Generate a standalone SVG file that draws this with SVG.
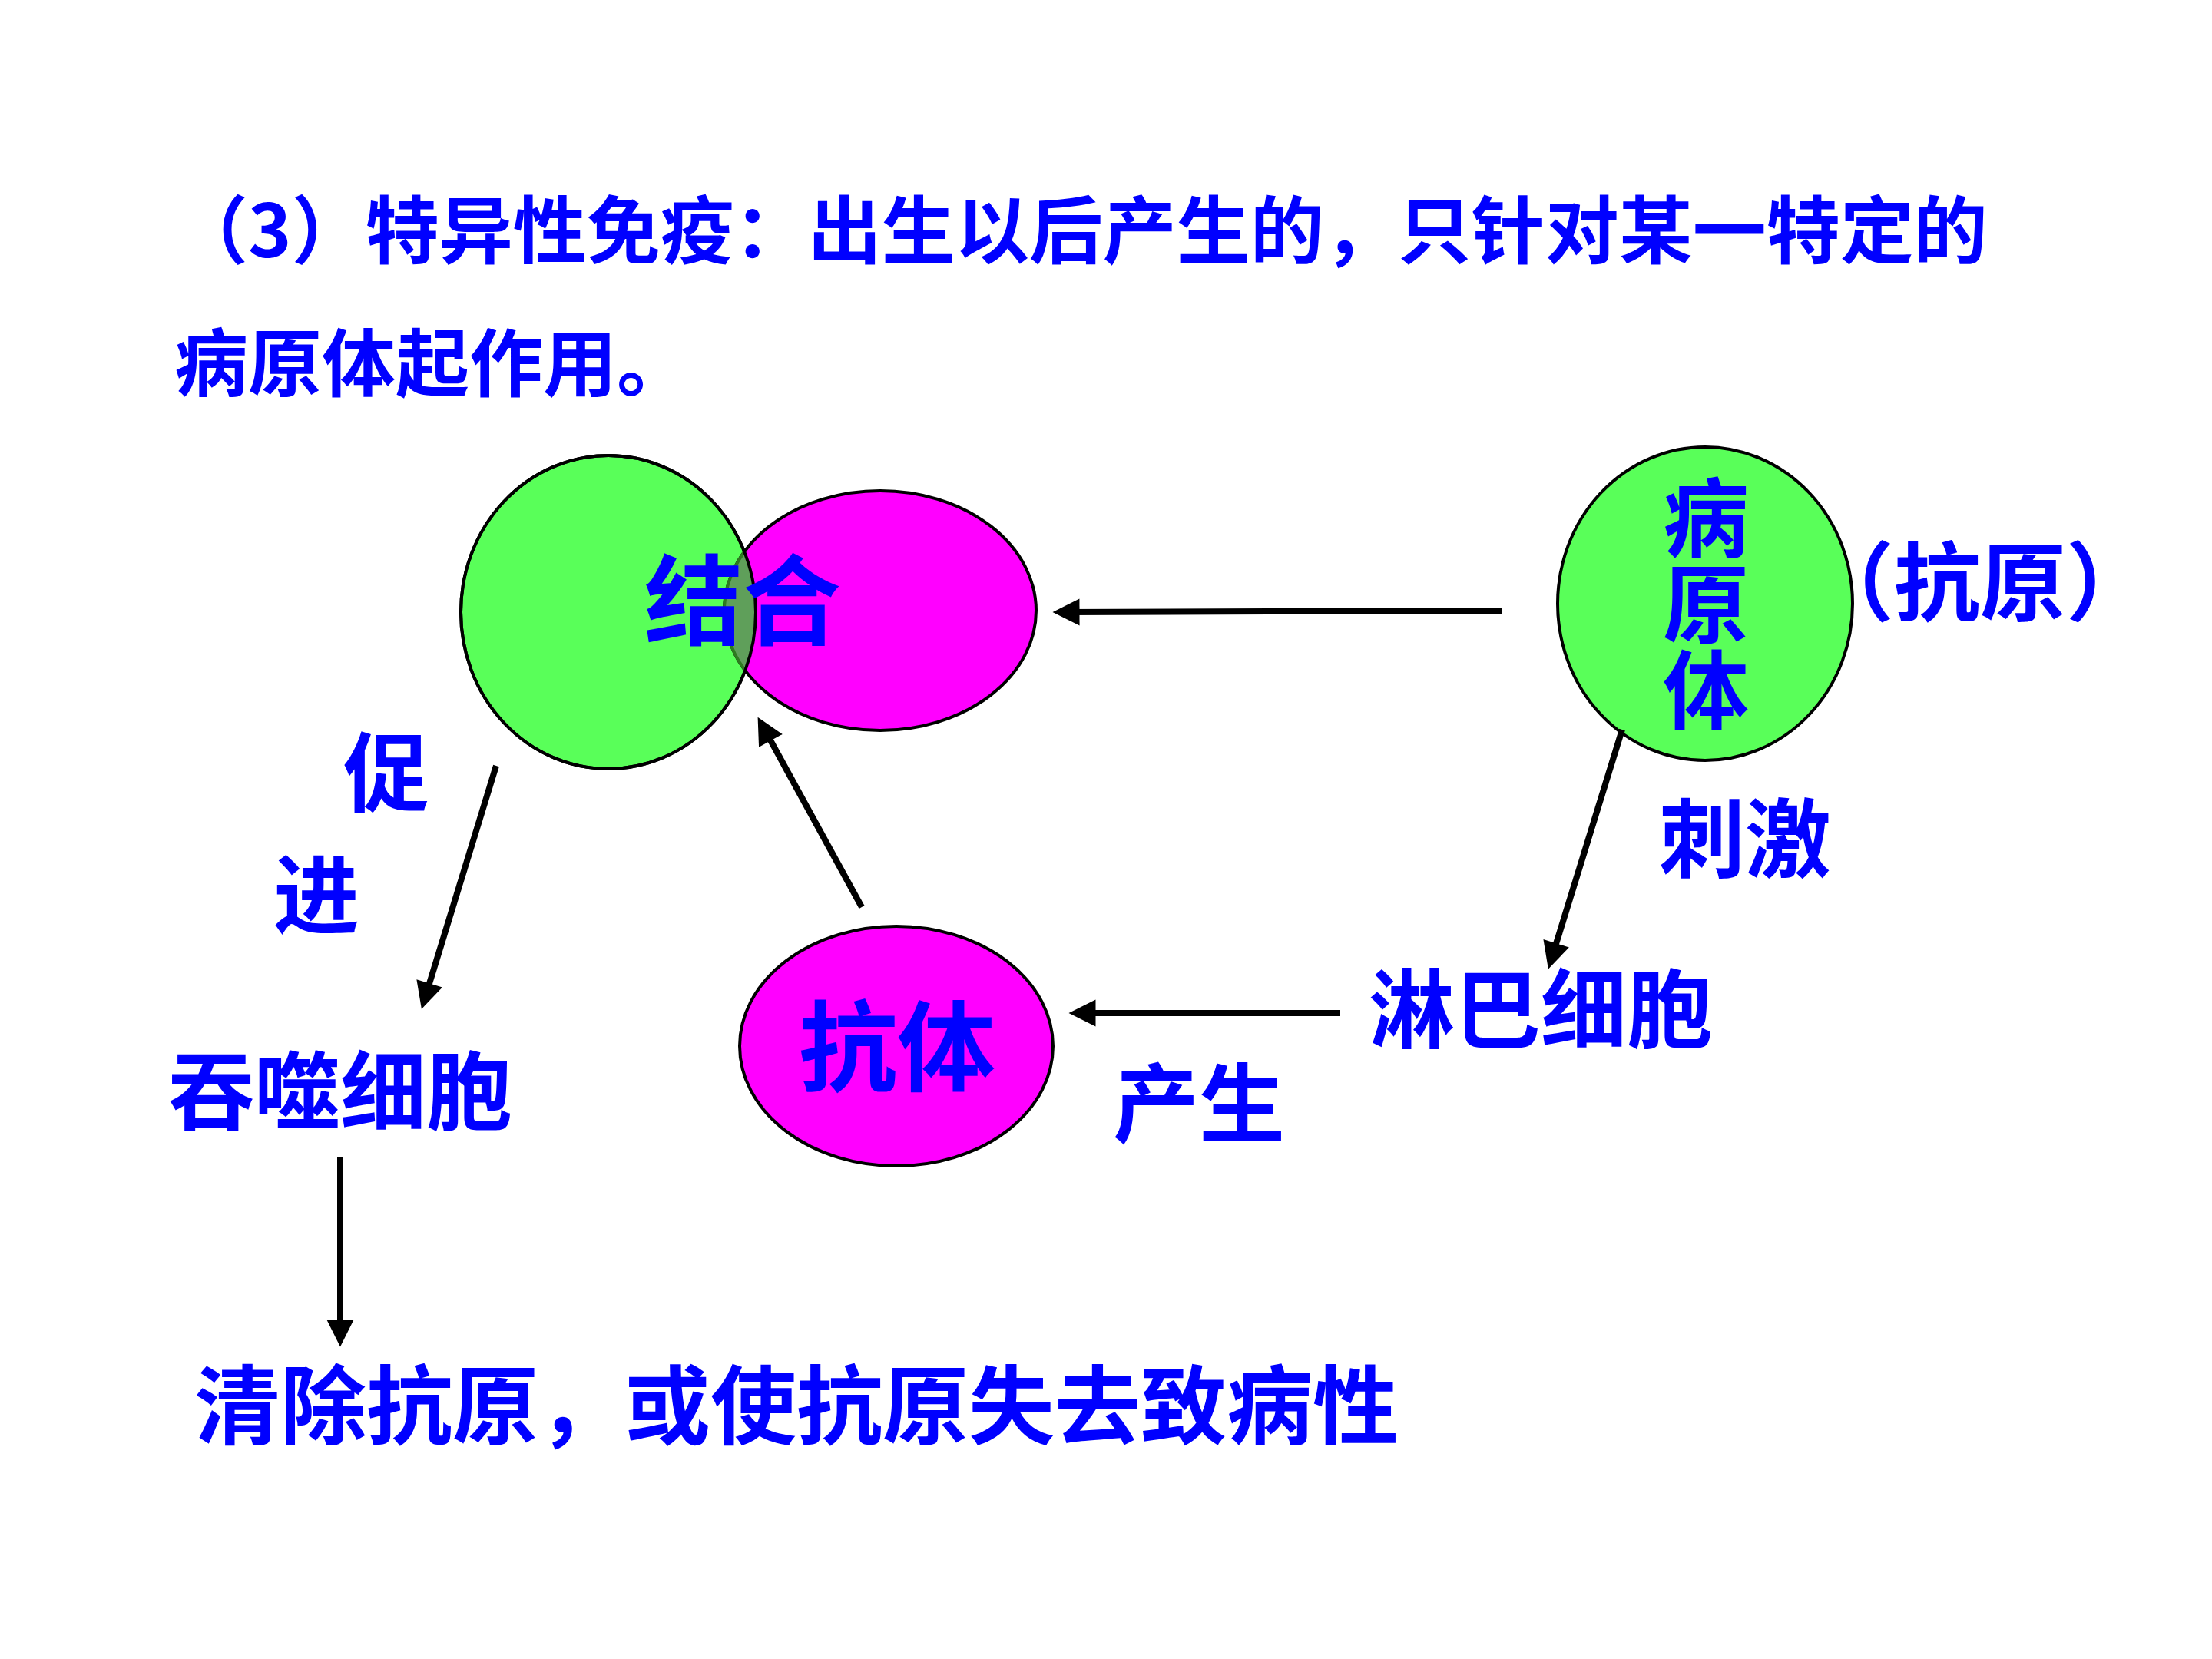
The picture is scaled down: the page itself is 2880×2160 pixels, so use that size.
<svg xmlns="http://www.w3.org/2000/svg" width="2880" height="2160" viewBox="0 0 2880 2160">
  <defs>
    <style>
      .t { font-family: "Noto Sans CJK SC", "Noto Sans", sans-serif; fill: #0000FF; font-weight: bold; }
      .f96 { font-size: 96px; }
      .f112 { font-size: 112px; }
      .f128 { font-size: 128px; }
      .mid { text-anchor: middle; }
      .vert { writing-mode: vertical-rl; text-orientation: upright; }
      .green { fill: #59FF59; stroke: #000; stroke-width: 4; }
      .mag { fill: #FF00FF; stroke: #000; stroke-width: 4; }
      .conn { stroke: #000; stroke-width: 8; fill: none; marker-end: url(#ah); }
    </style>
    <marker id="ah" markerUnits="userSpaceOnUse" markerWidth="40" markerHeight="40" viewBox="-16 -16 32 32" refX="0" refY="0" orient="auto">
      <path d="M14,0 L-14,-14 L-14,14 z" fill="#000"/>
    </marker>
    <clipPath id="greenClip">
      <ellipse cx="792" cy="797" rx="192" ry="204"/>
    </clipPath>
  </defs>
  <rect width="2880" height="2160" fill="#fff"/>

  <g id="title">
    <text class="t f96" x="227" y="335">（3）特异性免疫：出生以后产生的，只针对某一特定的</text>
    <text class="t f96" x="227" y="508">病原体起作用。</text>
  </g>

  <g id="node-binding">
    <ellipse class="green" cx="792" cy="797" rx="192" ry="204"/>
    <ellipse class="mag" cx="1146" cy="795" rx="203" ry="156"/>
    <ellipse cx="1146" cy="795" rx="203" ry="156" fill="#5F9F5A" stroke="#2E7A20" stroke-width="4" clip-path="url(#greenClip)"/>
    <ellipse cx="792" cy="797" rx="192" ry="204" fill="none" stroke="#000" stroke-width="4"/>
    <text class="t f128 mid" x="967" y="830">结合</text>
  </g>

  <g id="node-pathogen">
    <ellipse class="green" cx="2220" cy="786" rx="192" ry="204"/>
    <text class="t f112 vert" x="2221" y="618">病原体</text>
  </g>

  <g id="label-antigen">
    <text class="t f112" x="2354" y="800">（抗原）</text>
  </g>

  <g id="label-stimulate">
    <text class="t f112" x="2160" y="1134">刺激</text>
  </g>

  <g id="node-lymphocyte">
    <text class="t f112" x="1782" y="1356">淋巴细胞</text>
  </g>

  <g id="node-antibody">
    <ellipse class="mag" cx="1167" cy="1362" rx="204" ry="156"/>
    <text class="t f128 mid" x="1168" y="1411">抗体</text>
  </g>

  <g id="label-produce">
    <text class="t f112" x="1449" y="1479">产生</text>
  </g>

  <g id="label-promote">
    <text class="t f112" x="447" y="1048">促</text>
    <text class="t f112" x="356" y="1207">进</text>
  </g>

  <g id="node-phagocyte">
    <text class="t f112" x="219" y="1463">吞噬细胞</text>
  </g>

  <g id="node-result">
    <text class="t f112" x="253" y="1872">清除抗原，或使抗原失去致病性</text>
  </g>

  <g id="connectors">
    <line class="conn" x1="1956" y1="795" x2="1388" y2="797"/>
    <line class="conn" x1="2112" y1="950" x2="2021" y2="1245"/>
    <line class="conn" x1="1745" y1="1319" x2="1409" y2="1319"/>
    <line class="conn" x1="1122" y1="1181" x2="995" y2="949"/>
    <line class="conn" x1="646" y1="997" x2="554" y2="1297"/>
    <line class="conn" x1="443" y1="1506" x2="443" y2="1736"/>
  </g>
</svg>
